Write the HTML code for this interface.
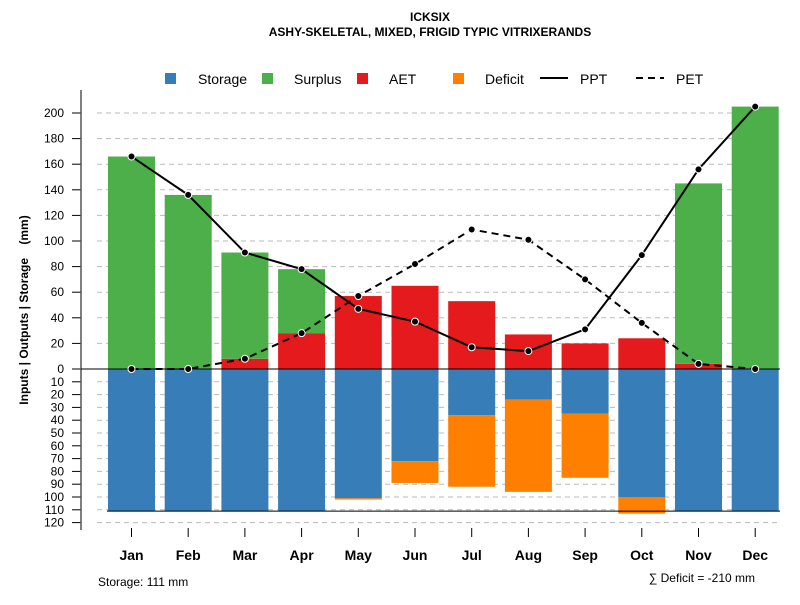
<!DOCTYPE html>
<html><head><meta charset="utf-8"><style>
body{margin:0;background:#fff}
svg{font-family:"Liberation Sans",Arial,sans-serif}
</style></head><body>
<svg id="c" width="800" height="600" xmlns="http://www.w3.org/2000/svg">
<text x="430" y="21" text-anchor="middle" font-size="12" font-weight="bold">ICKSIX</text>
<text x="430" y="36" text-anchor="middle" font-size="12" font-weight="bold">ASHY-SKELETAL, MIXED, FRIGID TYPIC VITRIXERANDS</text>
<g font-size="14">
<rect x="165" y="73" width="11" height="11" fill="#377EB8"/><text x="198" y="84">Storage</text>
<rect x="262" y="73" width="11" height="11" fill="#4DAF4A"/><text x="294" y="84">Surplus</text>
<rect x="357" y="73" width="11" height="11" fill="#E41A1C"/><text x="389" y="84">AET</text>
<rect x="453" y="73" width="11" height="11" fill="#FF7F00"/><text x="485" y="84">Deficit</text>
<line x1="540" y1="78" x2="568" y2="78" stroke="#000" stroke-width="2"/><text x="580" y="84">PPT</text>
<line x1="636" y1="78" x2="664" y2="78" stroke="#000" stroke-width="2" stroke-dasharray="7,5"/><text x="676" y="84">PET</text>
</g>
<text transform="translate(28,310) rotate(-90)" text-anchor="middle" font-size="12" font-weight="bold" xml:space="preserve" style="white-space:pre">Inputs | Outputs | Storage    (mm)</text>
<text x="98" y="586" font-size="12">Storage: 111 mm</text>
<text x="755" y="582" text-anchor="end" font-size="12">∑ Deficit = -210 mm</text>
<g id="plot"></g>
</svg>
<script>
const months=["Jan","Feb","Mar","Apr","May","Jun","Jul","Aug","Sep","Oct","Nov","Dec"];
const ppt=[166,136,91,78,47,37,17,14,31,89,156,205];
const pet=[0,0,8,28,57,82,109,101,70,36,4,0];
const aet=[0,0,8,28,57,65,53,27,20,24,4,0];
const surplus=[166,136,83,50,0,0,0,0,0,0,141,205];
const storage=[111,111,111,111,101,72,36,24,35,100,111,111];
const deficit=[0,0,0,0,1,17,56,72,50,13,0,0];
const upTicks=[0,20,40,60,80,100,120,140,160,180,200];
const downTicks=[10,20,30,40,50,60,70,80,90,100,110,120];
const maxStorage=111;
const NS="http://www.w3.org/2000/svg";
const g=document.getElementById('plot');
const y0=369,k=1.28;
const yUp=v=>y0-v*k, yDown=v=>y0+v*k;
const xC=i=>131.5+i*56.7;
const bw=47;
function mk(t,a){const e=document.createElementNS(NS,t);for(const n in a)e.setAttribute(n,a[n]);g.appendChild(e);return e;}
upTicks.forEach(v=>{if(v>0){const l=mk('line',{x1:97,x2:780,y1:yUp(v),y2:yUp(v),stroke:'#bbb','stroke-dasharray':'5,4'});

}
const t=mk('line',{x1:72,x2:81,y1:yUp(v),y2:yUp(v),stroke:'#000'});


const tx=mk('text',{x:64,y:yUp(v)+4,'text-anchor':'end','font-size':12});tx.textContent=v;

});
downTicks.forEach(v=>{const l=mk('line',{x1:97,x2:780,y1:yDown(v),y2:yDown(v),stroke:'#bbb','stroke-dasharray':'5,4'});


const t=mk('line',{x1:72,x2:81,y1:yDown(v),y2:yDown(v),stroke:'#000'});


const tx=mk('text',{x:64,y:yDown(v)+4,'text-anchor':'end','font-size':12});tx.textContent=v;

});
const ax=mk('line',{x1:81,x2:81,y1:90,y2:530,stroke:'#555','stroke-width':1.5});


months.forEach((m,i)=>{const x=xC(i)-bw/2;
let r=mk('rect',{x:x,y:yUp(aet[i]),width:bw,height:aet[i]*k,fill:'#E41A1C'});


r=mk('rect',{x:x,y:yUp(aet[i]+surplus[i]),width:bw,height:surplus[i]*k,fill:'#4DAF4A'});


r=mk('rect',{x:x,y:y0,width:bw,height:storage[i]*k,fill:'#377EB8'});


r=mk('rect',{x:x,y:yDown(storage[i]),width:bw,height:deficit[i]*k,fill:'#FF7F00'});


const t=mk('line',{x1:xC(i),x2:xC(i),y1:528,y2:537,stroke:'#000'});


const tx=mk('text',{x:xC(i),y:560,'text-anchor':'middle','font-size':14,'font-weight':'bold'});tx.textContent=m;

});
let l=mk('line',{x1:81,x2:780,y1:y0,y2:y0,stroke:'#000'});


l=mk('line',{x1:107,x2:780,y1:yDown(maxStorage),y2:yDown(maxStorage),stroke:'#000'});


const pp=ppt.map((v,i)=>xC(i)+','+yUp(v)).join(' ');
l=mk('polyline',{points:pp,fill:'none',stroke:'#000','stroke-width':2});


const pe=pet.map((v,i)=>xC(i)+','+yUp(v)).join(' ');
l=mk('polyline',{points:pe,fill:'none',stroke:'#000','stroke-width':2,'stroke-dasharray':'7,5'});


ppt.forEach((v,i)=>{const c=mk('circle',{cx:xC(i),cy:yUp(v),r:3.5,fill:'#000',stroke:'#fff','stroke-width':1});

});
pet.forEach((v,i)=>{const c=mk('circle',{cx:xC(i),cy:yUp(v),r:3.5,fill:'#000',stroke:'#fff','stroke-width':1});

});
</script>
</body></html>
